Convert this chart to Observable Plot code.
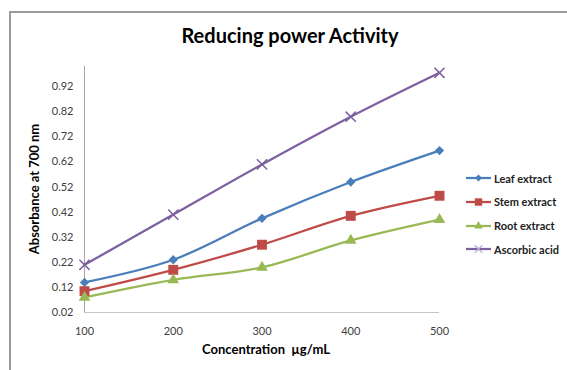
<!DOCTYPE html>
<html><head><meta charset="utf-8">
<script src="https://cdn.jsdelivr.net/npm/d3@7"></script>
<script src="https://cdn.jsdelivr.net/npm/@observablehq/plot@0.6"></script>
<style>
html,body{margin:0;padding:0;background:#fff;}
#wrap{position:relative;width:567px;height:370px;overflow:hidden;font-family:Lato,"Open Sans",sans-serif;background:#fff;}
#frame{position:absolute;left:9px;top:11px;width:600px;height:400px;border-top:2px solid #9a9a9a;border-left:2px solid #9a9a9a;}
#chart{position:absolute;left:0;top:0;}
#title{position:absolute;left:0;width:580px;top:23px;text-align:center;font-weight:bold;font-size:20px;color:#000;}
#ylab{position:absolute;left:34px;top:189px;transform:translate(-50%,-50%) rotate(-90deg);white-space:nowrap;font-weight:bold;font-size:13px;color:#000;}
#xlab{position:absolute;left:266px;top:349px;transform:translate(-50%,-50%);white-space:nowrap;font-weight:bold;font-size:13px;color:#000;}
#legend{position:absolute;left:466px;top:170px;}
.item{position:absolute;left:0;height:16px;display:flex;align-items:center;white-space:nowrap;font-size:11px;font-weight:bold;color:#222;}
.item svg{margin-right:3px;}
</style></head><body>
<div id="wrap">
  <div id="frame"></div>
  <div id="chart"></div>
  <div id="title">Reducing power Activity</div>
  <div id="ylab">Absorbance at 700 nm</div>
  <div id="xlab">Concentration&nbsp; µg/mL</div>
  <div id="legend"></div>
</div>
<script>
const concentrations = [100, 200, 300, 400, 500];
const seriesNames = ["Leaf extract", "Stem extract", "Root extract", "Ascorbic acid"];
const leafExtract = [0.14, 0.23, 0.395, 0.54, 0.665];
const stemExtract = [0.105, 0.19, 0.29, 0.405, 0.485];
const rootExtract = [0.08, 0.15, 0.20, 0.307, 0.39];
const ascorbicAcid = [0.21, 0.41, 0.61, 0.80, 0.975];
const yTicks = [0.02, 0.12, 0.22, 0.32, 0.42, 0.52, 0.62, 0.72, 0.82, 0.92];
const xTicks = [100, 200, 300, 400, 500];

const colors = ["#4a7ebb", "#be4b48", "#98b954", "#7d60a0"];
const symbols = ["diamond2", "square", "triangle", "times"];
const radii = [4.2, 5.6, 4.3, 4.7];

const valuesBySeries = [leafExtract, stemExtract, rootExtract, ascorbicAcid];
const data = [];
seriesNames.forEach((s, i) => {
  concentrations.forEach((c, j) => data.push({series: s, x: c, y: valuesBySeries[i][j]}));
});

const dotMarks = seriesNames.map((s, i) => {
  const sub = data.filter(d => d.series === s);
  if (symbols[i] === "times") {
    return Plot.dot(sub, {x: "x", y: "y", symbol: () => "times", r: radii[i], stroke: colors[i], strokeWidth: 1.5, fill: "none"});
  }
  return Plot.dot(sub, {x: "x", y: "y", symbol: () => symbols[i], r: radii[i], fill: colors[i], stroke: "none"});
});

const chart = Plot.plot({
  width: 567,
  height: 370,
  marginLeft: 84,
  marginTop: 66,
  marginBottom: 58,
  marginRight: 128,
  style: {fontFamily: "Lato, 'Open Sans', sans-serif", fontSize: "11px", color: "#404040", background: "transparent"},
  x: {domain: [100, 500]},
  y: {domain: [0.02, 1.0]},
  symbol: {type: "identity"},
  marks: [
    Plot.ruleX([100], {stroke: "#a6a6a6", strokeWidth: 1}),
    Plot.ruleY([0.02], {stroke: "#c4c4c4", strokeWidth: 1}),
    Plot.axisY({ticks: yTicks, tickSize: 0, tickPadding: 11, tickFormat: d3.format(".2f"), label: null}),
    Plot.axisX({ticks: xTicks, tickSize: 0, tickPadding: 15, tickFormat: d => String(d), label: null}),
    Plot.line(data, {x: "x", y: "y", z: "series", stroke: d => colors[seriesNames.indexOf(d.series)], strokeWidth: 2.25, curve: "catmull-rom"}),
    ...dotMarks
  ]
});
document.getElementById("chart").appendChild(chart);

// legend
const legend = document.getElementById("legend");
const legendY = [0, 23.5, 47.5, 71];
seriesNames.forEach((s, i) => {
  const item = document.createElement("div");
  item.className = "item";
  item.style.top = legendY[i] + "px";
  const sw = d3.create("svg").attr("width", 25).attr("height", 16);
  sw.append("line").attr("x1", 0).attr("x2", 25).attr("y1", 8).attr("y2", 8).attr("stroke", colors[i]).attr("stroke-width", 2.25);
  const symMap = {diamond2: d3.symbolDiamond2, square: d3.symbolSquare, triangle: d3.symbolTriangle, times: d3.symbolTimes};
  const size = Math.PI * Math.pow(radii[i] * 0.75, 2);
  const p = sw.append("path").attr("transform", "translate(12.5,8)").attr("d", d3.symbol(symMap[symbols[i]], size)());
  if (symbols[i] === "times") p.attr("fill", "none").attr("stroke", "#b9a8d0").attr("stroke-width", 1.2);
  else p.attr("fill", colors[i]);
  item.appendChild(sw.node());
  const t = document.createElement("span");
  t.textContent = s;
  item.appendChild(t);
  legend.appendChild(item);
});
</script>
</body></html>
